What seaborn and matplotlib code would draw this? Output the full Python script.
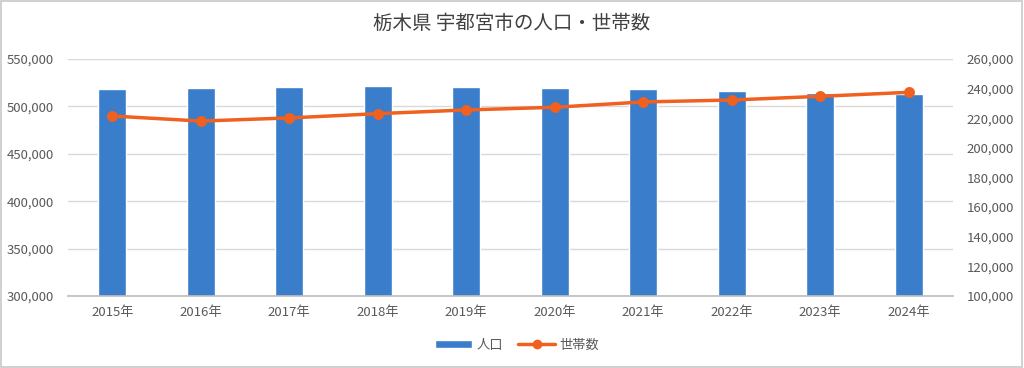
import pandas as pd
import numpy as np
import seaborn as sns
import matplotlib
matplotlib.use("Agg")
import matplotlib.pyplot as plt
from matplotlib.ticker import FuncFormatter
from matplotlib.patches import Patch, Rectangle
from matplotlib.lines import Line2D

# data
years = ["2015年", "2016年", "2017年", "2018年", "2019年",
         "2020年", "2021年", "2022年", "2023年", "2024年"]
population = [518400, 519400, 520100, 521200, 520100,
              519000, 518400, 516200, 514500, 513400]
households = [221500, 218100, 220200, 223100, 225600,
              227400, 231000, 232300, 234800, 237500]

df = pd.DataFrame({"年": years, "人口": population, "世帯数": households})

bar_color = "#3a7dcb"
line_color = "#f0601f"
text_color = "#595959"

sns.set_theme(style="white")
plt.rcParams["font.family"] = ["Noto Sans CJK JP", "DejaVu Sans"]

fig = plt.figure(figsize=(10.24, 3.68), dpi=100)
ax = fig.add_axes([0.0664, 0.1957, 0.8643, 0.644])

sns.barplot(data=df, x="年", y="人口", color=bar_color, width=0.32,
            saturation=1, ax=ax, zorder=2)
ax.set_ylim(300000, 550000)
ax.set_yticks(np.arange(300000, 550001, 50000))
ax.yaxis.set_major_formatter(FuncFormatter(lambda v, p: f"{int(v):,}"))
ax.grid(axis="y", color="#d9d9d9", linewidth=1, zorder=0)
ax.set_axisbelow(True)

ax2 = ax.twinx()
sns.pointplot(data=df, x="年", y="世帯数", color=line_color, ax=ax2,
              markers="o", markersize=6, linewidth=2.5)
ax2.set_ylim(100000, 260000)
ax2.set_yticks(np.arange(100000, 260001, 20000))
ax2.yaxis.set_major_formatter(FuncFormatter(lambda v, p: f"{int(v):,}"))

for a in (ax, ax2):
    a.set_xlabel("")
    a.set_ylabel("")
    for s in a.spines.values():
        s.set_visible(False)
    a.tick_params(length=0, labelsize=9.5, labelcolor=text_color)
ax.spines["bottom"].set_visible(True)
ax.spines["bottom"].set_color("#bfbfbf")
ax.tick_params(axis="x", pad=7)
ax.tick_params(axis="y", pad=10)
ax2.tick_params(axis="y", pad=10)
ax.set_xlim(-0.5, 9.5)

fig.suptitle("栃木県 宇都宮市の人口・世帯数", x=0.5, y=0.965,
             fontsize=14, color="#404040")

handles = [Patch(facecolor=bar_color, label="人口"),
           Line2D([0], [0], color=line_color, linewidth=2.5, marker="o",
                  markersize=6, label="世帯数")]
fig.legend(handles=handles, loc="center", bbox_to_anchor=(0.505, 0.062),
           ncol=2, frameon=False, fontsize=9.5, labelcolor=text_color,
           handlelength=2.8, handleheight=0.5, handletextpad=0.3,
           columnspacing=1.2)

fig.patches.append(Rectangle((0.001, 0.002), 0.997, 0.995, transform=fig.transFigure,
                             fill=False, edgecolor="#c8c8c8", linewidth=1.2))

plt.savefig("out.png", dpi=100)
